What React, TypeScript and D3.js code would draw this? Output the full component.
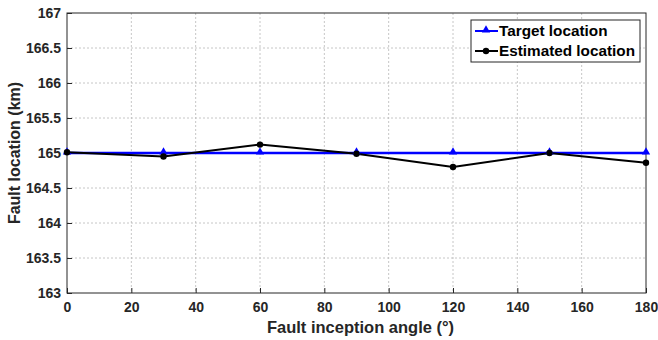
import * as React from 'react';
import * as d3 from 'd3';

const angles = [0, 30, 60, 90, 120, 150, 180];
const targetKm = [165, 165, 165, 165, 165, 165, 165];
const estimatedKm = [165.01, 164.95, 165.12, 164.99, 164.8, 165.0, 164.86];
const xTicks = [0, 20, 40, 60, 80, 100, 120, 140, 160, 180];
const yTicks = [163, 163.5, 164, 164.5, 165, 165.5, 166, 166.5, 167];
const seriesNames = ['Target location', 'Estimated location'];

const App = () => {
  const ref = React.useRef<SVGSVGElement>(null);

  React.useEffect(() => {
    const width = 658;
    const height = 340;
    const margin = {top: 13, right: 12, bottom: 47, left: 67};
    const w = width - margin.left - margin.right;
    const h = height - margin.top - margin.bottom;
    const font = 'Liberation Sans, Arial, sans-serif';

    const svg = d3.select(ref.current);
    svg.selectAll('*').remove();
    svg.attr('width', width).attr('height', height);
    svg.append('rect').attr('width', width).attr('height', height).attr('fill', '#fff');

    const g = svg.append('g').attr('transform', `translate(${margin.left},${margin.top})`);
    const x = d3.scaleLinear().domain([0, 180]).range([0, w]);
    const y = d3.scaleLinear().domain([163, 167]).range([h, 0]);

    // grid
    g.append('g').selectAll('line').data(xTicks.slice(1, -1)).enter().append('line')
      .attr('x1', d => x(d)).attr('x2', d => x(d)).attr('y1', 0).attr('y2', h)
      .attr('stroke', '#b8b8b8').attr('stroke-width', 0.8).attr('stroke-dasharray', '2,2');
    g.append('g').selectAll('line').data(yTicks.slice(1, -1)).enter().append('line')
      .attr('y1', d => y(d)).attr('y2', d => y(d)).attr('x1', 0).attr('x2', w)
      .attr('stroke', '#b8b8b8').attr('stroke-width', 0.8).attr('stroke-dasharray', '2,2');

    // box
    g.append('rect').attr('width', w).attr('height', h)
      .attr('fill', 'none').attr('stroke', '#262626').attr('stroke-width', 1);

    const xAxis = g.append('g').attr('transform', `translate(0,${h})`)
      .call(d3.axisBottom(x).tickValues(xTicks).tickSizeInner(-5).tickSizeOuter(0).tickPadding(9));
    const yAxis = g.append('g')
      .call(d3.axisLeft(y).tickValues(yTicks).tickSizeInner(-5).tickSizeOuter(0).tickPadding(6).tickFormat(d => String(d)));
    [xAxis, yAxis].forEach(a => {
      a.select('.domain').remove();
      a.selectAll('line').attr('stroke', '#262626');
      a.selectAll('text').attr('font-family', font).attr('font-size', 14)
        .attr('font-weight', 'bold').attr('fill', '#262626');
    });

    const line = d3.line<number>().x((d, i) => x(angles[i])).y(d => y(d));

    g.append('path').datum(targetKm).attr('d', line)
      .attr('fill', 'none').attr('stroke', '#0000ff').attr('stroke-width', 2.5);
    g.append('path').datum(estimatedKm).attr('d', line)
      .attr('fill', 'none').attr('stroke', '#000').attr('stroke-width', 2);

    const tri = d3.symbol().type(d3.symbolTriangle).size(30);
    g.selectAll('.tri').data(targetKm).enter().append('path')
      .attr('class', 'tri')
      .attr('d', tri)
      .attr('transform', (d, i) => `translate(${x(angles[i])},${y(d) - 1})`)
      .attr('fill', '#0000ff');
    g.selectAll('.dot').data(estimatedKm).enter().append('circle')
      .attr('class', 'dot')
      .attr('cx', (d, i) => x(angles[i])).attr('cy', d => y(d)).attr('r', 3.2)
      .attr('fill', '#000');

    // axis titles
    svg.append('text')
      .attr('x', margin.left + w / 2 + 4).attr('y', 333)
      .attr('text-anchor', 'middle').attr('font-family', font)
      .attr('font-size', 16.5).attr('font-weight', 'bold').attr('fill', '#262626')
      .text('Fault inception angle (°)');
    svg.append('text')
      .attr('transform', `translate(20,${margin.top + h / 2}) rotate(-90)`)
      .attr('text-anchor', 'middle').attr('font-family', font)
      .attr('font-size', 16).attr('font-weight', 'bold').attr('fill', '#262626')
      .text('Fault location (km)');

    // legend
    const lg = svg.append('g').attr('transform', 'translate(471,20)');
    lg.append('rect').attr('width', 169).attr('height', 42)
      .attr('fill', '#fff').attr('stroke', '#262626').attr('stroke-width', 1);
    const items = lg.selectAll('.item').data(seriesNames).enter().append('g')
      .attr('class', 'item')
      .attr('transform', (d, i) => `translate(0,${11 + i * 20})`);
    items.append('line').attr('x1', 4).attr('x2', 27).attr('y1', 0).attr('y2', 0)
      .attr('stroke', (d, i) => i === 0 ? '#0000ff' : '#000').attr('stroke-width', 2);
    items.filter((d, i) => i === 0).append('path').attr('d', tri)
      .attr('transform', 'translate(15,-1)').attr('fill', '#0000ff');
    items.filter((d, i) => i === 1).append('circle')
      .attr('cx', 15).attr('cy', 0).attr('r', 3.2).attr('fill', '#000');
    items.append('text').attr('x', 28).attr('y', 0).attr('dy', '.35em')
      .attr('font-family', font).attr('font-size', 15.3).attr('font-weight', 'bold')
      .attr('fill', '#000').text(d => d);
  }, []);

  return (
    <svg ref={ref} style={{position: 'absolute', left: 0, top: 0}}></svg>
  );
};

export default App;
